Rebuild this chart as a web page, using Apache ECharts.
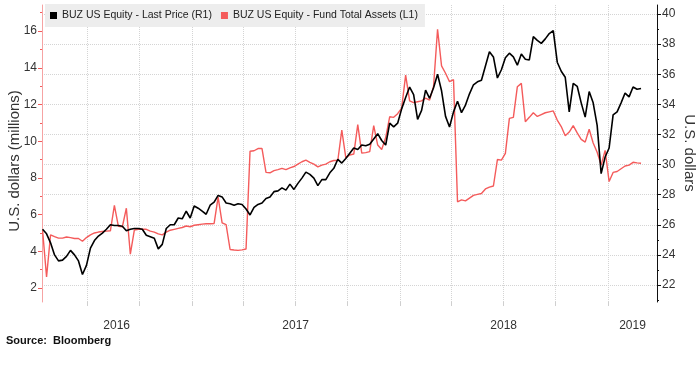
<!DOCTYPE html>
<html><head><meta charset="utf-8">
<script src="https://cdn.jsdelivr.net/npm/echarts@6/dist/echarts.min.js"></script>
<style>html,body{margin:0;padding:0;background:#fff}#c{width:700px;height:365px}</style>
</head><body><div id="c"></div>
<script>
const DAY = 86400000;
const firstWeek = '2016-04-14';
const weekCount = 151;
const xMin = '2016-04-13';
const xMax = '2019-03-28';

const lastPriceName = 'BUZ US Equity - Last Price (R1)';
const fundAssetsName = 'BUZ US Equity - Fund Total Assets (L1)';

// weekly readings, right axis (U.S. dollars)
const lastPrice = [
25.7,25.4,24.8,24.0,23.6,23.65,23.9,24.3,24.0,23.6,
22.7,23.3,24.45,24.95,25.25,25.45,25.7,26.0,25.95,25.95,
25.9,25.6,25.7,25.75,25.75,25.7,25.3,25.2,25.1,24.4,
24.7,25.75,26.0,26.0,26.45,26.4,26.9,26.45,27.25,27.1,
26.9,26.7,27.3,27.5,27.95,27.85,27.45,27.4,27.3,27.4,
27.35,27.05,26.65,27.15,27.35,27.45,27.75,27.85,28.2,28.25,
28.45,28.3,28.7,28.35,28.75,29.1,29.5,29.35,29.1,28.6,
29.0,29.0,29.45,29.75,30.35,30.1,30.4,30.75,31.1,31.0,
31.3,31.25,31.35,31.7,32.05,31.6,31.3,32.75,32.5,32.75,
33.7,34.45,35.15,34.65,33.0,33.6,34.95,34.4,35.1,36.0,
34.9,33.2,32.5,33.5,34.2,33.45,33.95,34.7,35.3,35.5,
35.6,36.55,37.5,37.15,35.75,36.3,37.1,37.4,37.15,36.6,
37.35,37.0,36.95,38.5,38.25,38.05,38.35,38.7,38.9,36.8,
36.2,35.8,33.5,35.4,35.2,34.1,33.15,34.85,34.1,32.6,
29.4,30.5,31.1,33.3,33.5,34.1,34.75,34.5,35.15,35.0,
35.05
];

// weekly readings, left axis (U.S. dollars, millions)
const fundAssets = [
5.15,2.6,4.9,4.8,4.72,4.72,4.78,4.75,4.7,4.7,
4.55,4.75,4.9,5.0,5.05,5.08,5.1,5.12,6.5,5.36,
5.34,6.35,3.85,5.16,5.2,5.2,5.2,5.1,5.05,4.95,
4.9,5.05,5.15,5.2,5.25,5.3,5.38,5.34,5.42,5.45,
5.48,5.5,5.5,5.52,6.95,5.55,5.45,4.1,4.07,4.05,
4.08,4.13,9.45,9.48,9.6,9.6,8.3,8.28,8.4,8.45,
8.52,8.45,8.55,8.62,8.75,8.88,8.97,8.85,8.75,8.6,
8.7,8.75,8.88,8.95,8.95,10.6,9.1,9.25,9.3,10.9,
9.35,9.38,9.43,10.85,9.79,9.55,10.2,11.33,11.3,11.5,
11.8,13.6,12.2,12.1,12.15,12.2,12.35,12.24,13.0,16.1,
14.1,13.7,13.24,13.35,6.7,6.8,6.75,6.9,7.05,7.1,
7.15,7.4,7.5,7.56,9.0,8.97,9.34,11.24,11.3,12.97,
13.15,11.06,11.3,11.55,11.35,11.45,11.55,11.6,11.65,11.15,
10.8,10.3,10.5,10.85,10.45,10.1,9.95,10.65,9.9,9.4,
8.7,9.5,7.8,8.3,8.35,8.5,8.65,8.7,8.85,8.82,
8.8
];

const leftTicks = [2,4,6,8,10,12,14,16];
const leftMinorTicks = [3,5,7,9,11,13,15,17];
const rightTicks = [22,24,26,28,30,32,34,36,38,40];
const rightMinorTicks = [21,23,25,27,29,31,33,35,37,39];
const quarterStarts = ['2016-07-01','2016-10-01','2017-01-01','2017-04-01','2017-07-01','2017-10-01','2018-01-01','2018-04-01','2018-07-01','2018-10-01','2019-01-01'];
const yearLabelDates = ['2016-08-22','2017-07-02','2018-07-02','2019-02-13'];

const ts = s => Date.parse(s + 'T00:00:00Z');
const weeks = Array.from({length: weekCount}, (_, i) => ts(firstWeek) + i * 7 * DAY);

const FONT = '"Liberation Sans", Arial, sans-serif';
const leftMin = 1.24, leftMax = 17.42, rightMin = 20.87, rightMax = 40.6;

const chart = echarts.init(document.getElementById('c'));
chart.setOption({
  animation: false,
  backgroundColor: '#fff',
  textStyle: {fontFamily: FONT},
  grid: {left: 42, right: 43, top: 5, bottom: 63},
  legend: {
    left: 45, top: 4,
    data: [lastPriceName, fundAssetsName],
    icon: 'rect', itemWidth: 7, itemHeight: 7, itemGap: 9,
    backgroundColor: '#ededed', borderRadius: 0,
    padding: [6, 7, 6, 5],
    textStyle: {fontSize: 10.5, color: '#222', fontFamily: FONT}
  },
  xAxis: {
    type: 'value', min: ts(xMin), max: ts(xMax),
    axisLine: {show: false},
    axisTick: {show: true, customValues: quarterStarts.map(ts), length: 4, lineStyle: {color: '#cfcfcf'}},
    axisLabel: {customValues: yearLabelDates.map(ts), formatter: v => String(new Date(v).getUTCFullYear()),
      color: '#333', fontSize: 12, margin: 18, fontFamily: FONT},
    splitLine: {show: true, lineStyle: {color: '#d4d4d4', type: 'dotted', width: 1}}
  },
  yAxis: [
    {type: 'value', position: 'left', min: leftMin, max: leftMax,
     axisLine: {show: true, lineStyle: {color: '#f6a3a3'}},
     axisTick: {show: true, customValues: leftTicks, length: 4, lineStyle: {color: '#f25c5c'}},
     axisLabel: {customValues: leftTicks, color: '#333', fontSize: 12, margin: 5, fontFamily: FONT},
     splitLine: {show: false}},
    {type: 'value', position: 'right', min: rightMin, max: rightMax,
     axisLine: {show: true, lineStyle: {color: '#111'}},
     axisTick: {show: true, customValues: rightTicks, length: 4, lineStyle: {color: '#111'}},
     axisLabel: {customValues: rightTicks, color: '#333', fontSize: 12, margin: 5, fontFamily: FONT},
     splitLine: {show: true, lineStyle: {color: '#d4d4d4', type: 'dotted', width: 1}}},
    {type: 'value', position: 'left', min: leftMin, max: leftMax,
     axisLine: {show: false},
     axisTick: {show: true, customValues: leftMinorTicks, length: 2, lineStyle: {color: '#f25c5c'}},
     axisLabel: {show: false}, splitLine: {show: false}},
    {type: 'value', position: 'right', min: rightMin, max: rightMax,
     axisLine: {show: false},
     axisTick: {show: true, customValues: rightMinorTicks, length: 2, lineStyle: {color: '#111'}},
     axisLabel: {show: false}, splitLine: {show: false}}
  ],
  series: [
    {name: fundAssetsName, type: 'line', yAxisIndex: 0, showSymbol: false,
     color: '#f45b5b', lineStyle: {width: 1.4, color: '#f45b5b'},
     data: weeks.map((d, i) => [d, fundAssets[i]])},
    {name: lastPriceName, type: 'line', yAxisIndex: 1, showSymbol: false,
     color: '#000', lineStyle: {width: 1.6, color: '#000'},
     data: weeks.map((d, i) => [d, lastPrice[i]])}
  ],
  graphic: [
    {type: 'text', x: 15, y: 161, rotation: Math.PI / 2,
     style: {text: 'U.S. dollars (millions)', font: '15px ' + FONT, fill: '#333', align: 'center', verticalAlign: 'middle', textAlign: 'center', textVerticalAlign: 'middle'}},
    {type: 'text', x: 689, y: 153, rotation: -Math.PI / 2,
     style: {text: 'U.S. dollars', font: '15px ' + FONT, fill: '#333', align: 'center', verticalAlign: 'middle', textAlign: 'center', textVerticalAlign: 'middle'}},
    {type: 'text', x: 6, y: 341,
     style: {text: 'Source:  Bloomberg', font: 'bold 11px ' + FONT, fill: '#111', align: 'left', verticalAlign: 'middle', textAlign: 'left', textVerticalAlign: 'middle'}}
  ]
});
</script></body></html>
